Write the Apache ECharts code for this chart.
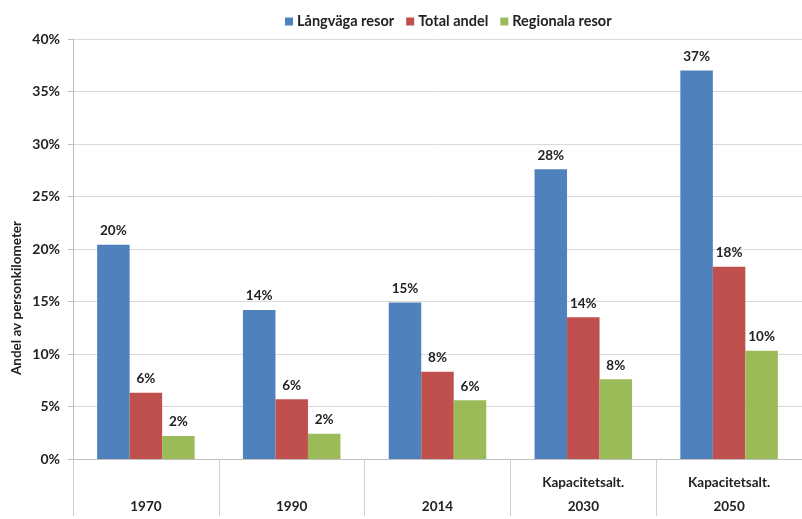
<!DOCTYPE html>
<html>
<head>
<meta charset="utf-8">
<script src="https://cdn.jsdelivr.net/npm/echarts@6/dist/echarts.min.js"></script>
<style>
html,body{margin:0;padding:0;background:#fff;}
#chart{width:802px;height:519px;}
</style>
</head>
<body>
<div id="chart"></div>
<script>
var years = ['1970', '1990', '2014', '2030', '2050'];
var yearNotes = ['', '', '', 'Kapacitetsalt.', 'Kapacitetsalt.'];
var seriesNames = ['Långväga resor', 'Total andel', 'Regionala resor'];
var langvaga = [20.4, 14.2, 14.9, 27.6, 37.0];
var totalAndel = [6.3, 5.7, 8.3, 13.5, 18.3];
var regionala = [2.2, 2.4, 5.6, 7.6, 10.3];
var yTicks = [0, 5, 10, 15, 20, 25, 30, 35, 40];
var yTitle = 'Andel av personkilometer';

var colors = ['#4F81BD', '#C0504D', '#9BBB59'];
var FONT = 'Lato';
var TXT = '#222222';

var chart = echarts.init(document.getElementById('chart'));
function mk(name, data, color) {
  return {
    name: name, type: 'bar', data: data, barWidth: 32.5, barGap: '0%',
    itemStyle: { color: color },
    label: {
      show: true, position: 'top', distance: 7,
      formatter: function (p) { return Math.round(p.value) + '%'; },
      fontFamily: FONT, fontWeight: 'bold', fontSize: 13.5, color: TXT
    }
  };
}
chart.setOption({
  animation: false,
  textStyle: { fontFamily: FONT },
  legend: {
    data: seriesNames, top: 9, left: 280,
    itemWidth: 8, itemHeight: 8, itemGap: 12,
    icon: 'rect',
    textStyle: { fontFamily: FONT, fontWeight: 'bold', fontSize: 14.5, color: TXT, padding: [0, 0, 0, -1] }
  },
  grid: { left: 73, right: -6, top: 39, bottom: 57, containLabel: false },
  xAxis: {
    type: 'category', data: years,
    axisLine: { show: true, lineStyle: { color: '#BFBFBF', width: 1 } },
    axisTick: { show: true, length: 57, lineStyle: { color: '#D0D0D0' } },
    axisLabel: {
      margin: 12, lineHeight: 24, fontFamily: FONT, fontWeight: 'bold', fontSize: 13.5, color: TXT,
      formatter: function (v, i) { return yearNotes[i] + '\n' + v; }
    }
  },
  yAxis: {
    type: 'value', min: yTicks[0], max: yTicks[yTicks.length - 1], interval: yTicks[1] - yTicks[0],
    axisLine: { show: true, lineStyle: { color: '#BFBFBF' } },
    axisTick: { show: true, length: 5, lineStyle: { color: '#BFBFBF' } },
    splitLine: { show: true, lineStyle: { color: '#D9D9D9' } },
    axisLabel: { margin: 13, fontFamily: FONT, fontWeight: 'bold', fontSize: 14, color: TXT,
      formatter: function (v) { return v + '%'; } }
  },
  graphic: [{
    type: 'text', x: 17, y: 298, rotation: Math.PI / 2,
    style: { text: yTitle, fontFamily: FONT, fontWeight: 'bold', fontSize: 13.5, fill: TXT,
      align: 'center', verticalAlign: 'middle' }
  }],
  series: [
    mk(seriesNames[0], langvaga, colors[0]),
    mk(seriesNames[1], totalAndel, colors[1]),
    mk(seriesNames[2], regionala, colors[2])
  ]
});
</script>
</body>
</html>
